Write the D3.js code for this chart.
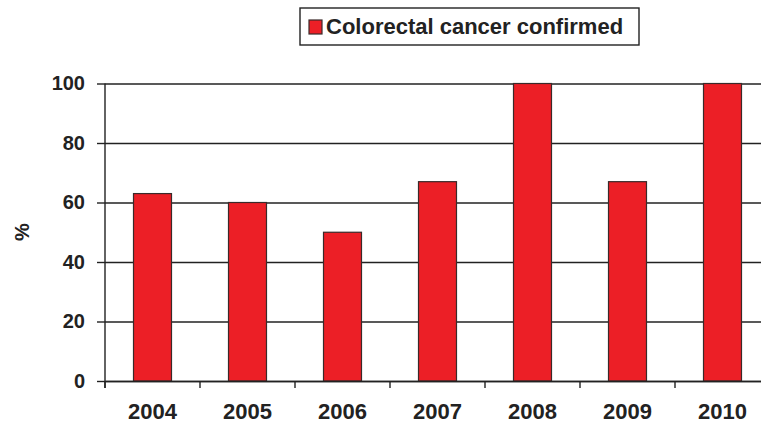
<!DOCTYPE html>
<html>
<head>
<meta charset="utf-8">
<script src="https://cdn.jsdelivr.net/npm/d3@7"></script>
<style>
  body { margin: 0; background: #fff; }
  text { font-family: "Liberation Sans", Arial, sans-serif; font-weight: bold; fill: #222; }
</style>
</head>
<body>
<div id="chart"></div>
<script>
// data
var years = ["2004", "2005", "2006", "2007", "2008", "2009", "2010"];
var confirmed = [63, 60, 50, 67, 100, 67, 100];
var yTicks = [0, 20, 40, 60, 80, 100];
var seriesName = "Colorectal cancer confirmed";

var W = 761, H = 425;
var plotLeft = 105, plotRight = 770, plotTop = 83.5, plotBottom = 381;

var svg = d3.select("#chart").append("svg")
  .attr("width", W)
  .attr("height", H);

var x = d3.scaleBand()
  .domain(years)
  .range([plotLeft, plotRight])
  .paddingInner(0.6)
  .paddingOuter(0.3);

var y = d3.scaleLinear()
  .domain([0, 100])
  .range([plotBottom, plotTop]);

// gridlines
var grid = svg.append("g")
  .attr("transform", `translate(${plotLeft},0)`)
  .call(d3.axisLeft(y).tickValues(yTicks).tickSize(-(plotRight - plotLeft)).tickFormat(""));
grid.select(".domain").remove();
grid.selectAll("line").attr("stroke", "#222").attr("stroke-width", 1.4);

// bars
svg.append("g").selectAll("rect")
  .data(confirmed)
  .join("rect")
  .attr("x", (d, i) => x(years[i]))
  .attr("y", d => y(d))
  .attr("width", x.bandwidth())
  .attr("height", d => y(0) - y(d))
  .attr("fill", "#ec1f26")
  .attr("stroke", "#3a2a2a")
  .attr("stroke-width", 1.2);

// y axis
var yAxis = svg.append("g")
  .attr("transform", `translate(${plotLeft},0)`)
  .call(d3.axisLeft(y).tickValues(yTicks).tickSize(8).tickPadding(12).tickSizeOuter(0));
yAxis.select(".domain").attr("stroke", "#222").attr("stroke-width", 1.4)
  .attr("d", `M0,${plotTop}V${plotBottom + 7}`);
yAxis.selectAll("line").attr("stroke", "#222").attr("stroke-width", 1.4);
yAxis.selectAll("text").style("font-size", "20px");

// x axis: labels under band centres, ticks on band boundaries
var xAxis = svg.append("g")
  .attr("transform", `translate(0,${plotBottom})`)
  .call(d3.axisBottom(x).tickSize(0).tickPadding(22).tickSizeOuter(0));
xAxis.select(".domain").attr("stroke", "#222").attr("stroke-width", 1.4);
xAxis.selectAll("text").style("font-size", "22px");

var half = (x.step() - x.bandwidth()) / 2;
var bounds = years.map(d => x(d) - half).concat([x(years[years.length - 1]) + x.bandwidth() + half]);
xAxis.selectAll(".bound")
  .data(bounds)
  .join("line")
  .attr("class", "bound")
  .attr("x1", d => d).attr("x2", d => d)
  .attr("y1", 0).attr("y2", 7)
  .attr("stroke", "#222")
  .attr("stroke-width", 1.4);

// y title
svg.append("text")
  .attr("transform", "translate(29,232) rotate(-90)")
  .attr("text-anchor", "middle")
  .style("font-size", "20px")
  .text("%");

// legend
var legend = svg.append("g");
legend.append("rect")
  .attr("x", 300).attr("y", 8)
  .attr("width", 339).attr("height", 37)
  .attr("fill", "#fff")
  .attr("stroke", "#222")
  .attr("stroke-width", 1.4);
legend.append("rect")
  .attr("x", 309).attr("y", 20)
  .attr("width", 13).attr("height", 14)
  .attr("fill", "#ec1f26")
  .attr("stroke", "#3a2a2a")
  .attr("stroke-width", 1.2);
legend.append("text")
  .attr("x", 326).attr("y", 34)
  .style("font-size", "22px")
  .text(seriesName);
</script>
</body>
</html>
